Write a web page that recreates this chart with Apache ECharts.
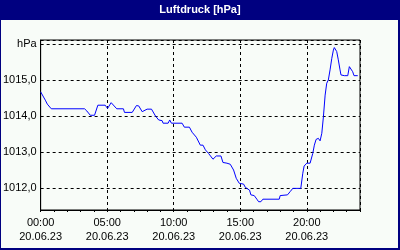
<!DOCTYPE html>
<html><head><meta charset="utf-8">
<script src="https://cdn.jsdelivr.net/npm/echarts@6/dist/echarts.min.js"></script>
<style>html,body{margin:0;padding:0;background:#000080}#c{width:400px;height:250px}</style>
</head><body><div id="c"></div>
<script>
const titleText = 'Luftdruck [hPa]';
const dateLabel = '20.06.23';
const unitLabel = 'hPa';
// time in hours since 00:00 on 20.06.23
const times = [0.0,0.35,0.5,0.65,0.8,3.3,3.47,3.6,3.73,4.05,4.3,4.85,5.03,5.3,5.72,6.22,6.3,6.88,7.2,7.37,7.63,8.0,8.33,8.63,8.87,9.13,9.2,9.58,9.7,9.83,10.63,10.8,11.18,11.38,11.7,12.0,12.2,12.38,12.62,12.95,13.2,13.55,13.7,14.0,14.25,14.5,14.7,14.93,15.25,15.38,15.7,15.8,16.05,16.25,16.38,16.55,16.7,17.93,18.0,18.55,18.75,18.88,18.95,19.55,19.7,19.8,20.0,20.25,20.45,20.57,20.7,20.87,21.0,21.13,21.25,21.38,21.5,21.62,21.75,21.88,22.0,22.07,22.25,22.37,22.5,22.57,22.67,22.82,23.08,23.2,23.3,23.45,23.55,23.83];
const pressure = [1014.67,1014.44,1014.33,1014.28,1014.2,1014.2,1014.14,1014.1,1014.02,1014.02,1014.3,1014.3,1014.21,1014.37,1014.2,1014.2,1014.1,1014.1,1014.29,1014.28,1014.12,1014.19,1014.19,1014.0,1013.89,1013.87,1013.8,1013.8,1013.89,1013.8,1013.8,1013.69,1013.69,1013.55,1013.41,1013.19,1013.19,1013.06,1012.96,1012.8,1012.89,1012.89,1012.71,1012.69,1012.66,1012.5,1012.27,1012.13,1012.11,1012.02,1011.94,1011.81,1011.79,1011.69,1011.62,1011.62,1011.69,1011.69,1011.79,1011.81,1011.9,1011.94,1011.99,1011.99,1012.41,1012.61,1012.69,1012.69,1012.96,1013.19,1013.35,1013.38,1013.31,1013.52,1013.98,1014.58,1014.91,1015.0,1015.28,1015.6,1015.83,1015.9,1015.79,1015.56,1015.28,1015.14,1015.19,1015.12,1015.12,1015.37,1015.33,1015.23,1015.12,1015.12];
const xMin = 0, xMax = 24, xMajor = 5, xMinor = 1;
const yMin = 1011.39, yMax = 1016.11, yStep = 1, yUnitAt = 1016;

const font = "'Liberation Sans Narrow','Liberation Sans',Arial,sans-serif";
const chart = echarts.init(document.getElementById('c'), null, {renderer:'canvas'});
const pad = n => (n < 10 ? '0' : '') + n;
chart.setOption({
  animation: false,
  backgroundColor: '#000080',
  graphic: [{type:'rect', z:-10, silent:true, shape:{x:1,y:20,width:397,height:228}, style:{fill:'#f8fcf8'}}],
  title: {text: titleText, left:'center', top:3, padding:0,
    textStyle:{color:'#ffffff', fontFamily:"'Liberation Sans',Arial,sans-serif", fontWeight:'bold', fontSize:11, lineHeight:14}},
  grid: {left:40, top:40, width:320, height:170, show:true, borderColor:'#000', borderWidth:1, backgroundColor:'transparent'},
  xAxis: [{
    type:'value', min:xMin, max:xMax, interval:xMinor, position:'bottom',
    axisLine:{show:true, lineStyle:{color:'#000', width:1}},
    axisTick:{show:true, length:2, inside:false, lineStyle:{color:'#000'}},
    splitLine:{show:false},
    axisLabel:{margin:6, color:'#000', fontFamily:font, fontSize:11, lineHeight:14,
      formatter: v => (Math.abs(v % xMajor) < 1e-6 && v < xMax) ? pad(v) + ':00\n' + dateLabel : ''}
  },{
    type:'value', min:xMin, max:xMax, interval:xMajor, position:'bottom',
    axisLine:{show:false}, axisTick:{show:false}, axisLabel:{show:false},
    splitLine:{show:true, lineStyle:{color:'#000', type:[3,3], width:1}}
  }],
  yAxis: {
    type:'value', min:yMin, max:yMax, minInterval:yStep, maxInterval:yStep,
    axisLine:{show:true, lineStyle:{color:'#000'}},
    axisTick:{show:false},
    splitLine:{show:true, lineStyle:{color:'#000', type:[3,3], width:1}},
    axisLabel:{margin:4, color:'#000', fontFamily:font, fontSize:11,
      formatter: v => Math.abs(v - Math.round(v)) > 1e-6 ? '' : (Math.round(v) === yUnitAt ? unitLabel : v.toFixed(1).replace('.', ','))}
  },
  series: [{
    type:'line', xAxisIndex:0, showSymbol:false, symbol:'none',
    lineStyle:{color:'#0000ff', width:1}, itemStyle:{color:'#0000ff'},
    data: times.map((t,i) => [t, pressure[i]])
  }]
});
</script></body></html>
